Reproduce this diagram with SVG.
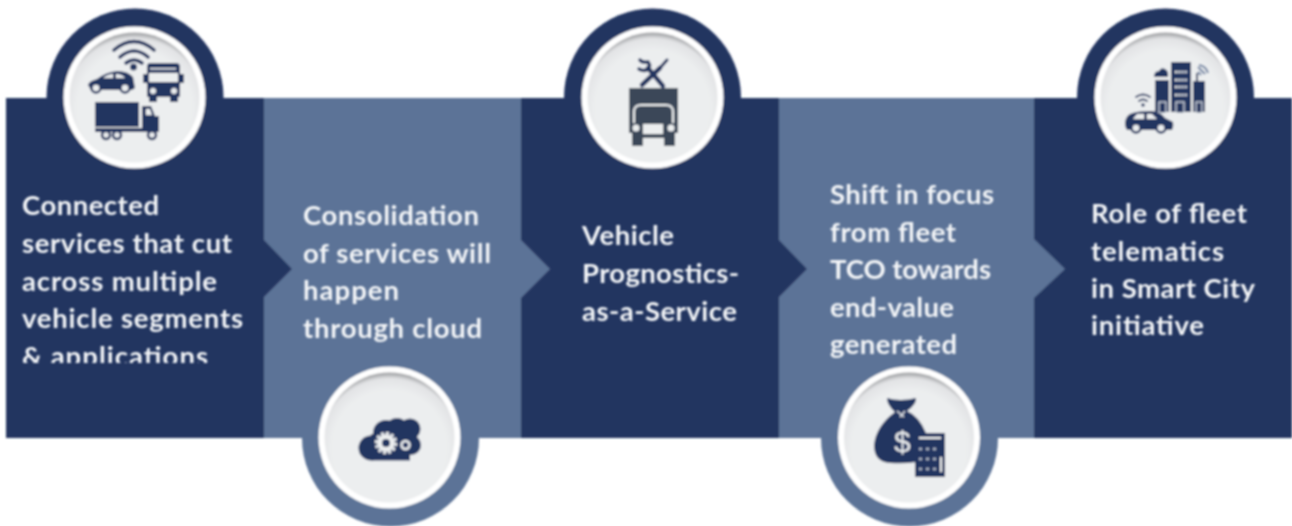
<svg xmlns="http://www.w3.org/2000/svg" width="1292" height="526" viewBox="0 0 1292 526">
<defs>
<filter id="soft" x="-5%" y="-5%" width="110%" height="110%"><feGaussianBlur stdDeviation="0.85"/></filter>
<radialGradient id="dish" cx="0.5" cy="0.58" r="0.58"><stop offset="0.76" stop-color="#eceeef"/><stop offset="0.92" stop-color="#e2e3e5"/><stop offset="1" stop-color="#9a9c9f"/></radialGradient>
<clipPath id="cut1"><rect x="0" y="180" width="264" height="183"/></clipPath>
<g id="dishg"><circle r="71" fill="#fff"/><circle r="65" fill="url(#dish)"/></g>
</defs>
<style>
.d{fill:#233561}.l{fill:#5c7397}.g{fill:#3a4658}.bg{fill:#eceeef}
.t{font-family:"Lato","Open Sans","Liberation Sans",sans-serif;font-weight:700;font-size:27.5px;fill:#f4f6f8}
.ws{fill:none;stroke:#233561;stroke-linecap:round}
.wh{fill:#eceeef;stroke:#233561;stroke-width:2.5}
</style>
<rect width="1292" height="526" fill="#fff"/>
<g filter="url(#soft)">
<g id="node1"><rect class="d" x="6" y="98" width="258" height="340"/><circle class="d" cx="135" cy="97" r="88.5"/><use href="#dishg" x="134.5" y="97.5"/>
<path class="ws" stroke-width="3.6" d="M114 50Q134 33 154 50M120 57Q134 45 148 57M126 63Q134 57 142 63"/><circle class="d" cx="133.5" cy="67" r="3.5"/>
<path class="d" d="M88 85Q89 81 97 79Q106 72 117 71Q128 71 133 77L135 88L132 90H91Z"/><path class="bg" d="M103 78Q108 74 113 74V78ZM116 74Q122 74 125 78H116Z"/><circle class="wh" cx="96" cy="88" r="4.5"/><circle class="wh" cx="125" cy="88" r="4.5"/>
<path class="d" d="M150 63H176Q180 63 180 67V97H147V67Q147 63 150 63ZM143 74H147V83H143ZM180 74H184V83H180ZM149 97H157V102H149ZM170 97H178V102H170Z"/><rect class="bg" x="149" y="73" width="29" height="9"/><rect class="bg" x="150" y="68" width="26" height="1.5"/><circle class="bg" cx="153" cy="91" r="3"/><circle class="bg" cx="174" cy="91" r="3"/>
<rect class="d" x="95" y="102" width="44" height="25"/><path class="d" d="M142 106H151L155 116H159V132H95V128H142Z"/><path class="bg" d="M146 109H150L152 115H146Z"/><circle class="wh" cx="106" cy="135" r="4"/><circle class="wh" cx="117" cy="135" r="4"/><circle class="wh" cx="152" cy="135" r="4"/>
</g>
<g id="node2"><circle class="l" cx="390.5" cy="438" r="88.5"/><rect class="l" x="264" y="98" width="257" height="340"/><use href="#dishg" x="389.5" y="437.5"/>
<g class="d"><circle cx="371" cy="448" r="12.5"/><circle cx="386" cy="433" r="13"/><circle cx="397" cy="429" r="11"/><circle cx="410" cy="429" r="10.500"/><circle cx="411" cy="445" r="10"/><rect x="371" y="434" width="39" height="26.500"/></g>
<circle cx="386" cy="443" r="6.500" fill="none" stroke="#eceeef" stroke-width="5"/><circle cx="386" cy="443" r="10" fill="none" stroke="#eceeef" stroke-width="2.500" stroke-dasharray="3 2.200"/>
<circle cx="405.500" cy="445" r="4" fill="none" stroke="#eceeef" stroke-width="2.500"/>
</g>
<g id="node3"><rect class="d" x="521" y="98" width="258" height="340"/><circle class="d" cx="652.500" cy="97" r="88.500"/><use href="#dishg" x="652.500" y="97.500"/>
<path class="ws" stroke-width="4.500" d="M642 85L660 68M663 86L648 68"/><path class="ws" stroke-width="3" d="M660 68L667 60"/><path class="ws" stroke-width="3.500" d="M640 60Q642 63 648 62Q651 66 648 69Q644 72 639 69"/>
<path class="g" d="M629 88H678V133H675V146H664V138H643V146H632V133H629Z"/><path d="M634 123V112Q634 105 641 105H666Q673 105 673 112V123" fill="none" stroke="#eceeef" stroke-width="2"/><rect class="bg" x="643" y="124" width="20" height="10"/><circle class="bg" cx="636" cy="128" r="3.500"/><circle class="bg" cx="671" cy="128" r="3.500"/>
</g>
<g id="node4"><circle class="l" cx="909.500" cy="438" r="88.500"/><rect class="l" x="779" y="98" width="255" height="340"/><use href="#dishg" x="909" y="437.500"/><path class="l" d="M925 366H934V369L925 368Z"/>
<path class="d" d="M887 398Q900 402 916 398Q917 404 907 411Q919 416 926 433H916V462Q905 464 890 463Q874 462 874 445Q876 426 895 412Q887 405 887 398Z"/><path d="M897 411L904 417M905 411L900 417" stroke="#eceeef" stroke-width="1.200"/>
<text x="894" y="452" style="font-family:'Liberation Sans',sans-serif;font-size:30px;fill:#eceeef">$</text>
<rect class="d" x="915" y="433" width="30" height="44"/><rect class="bg" x="919" y="437" width="22" height="2"/>
<path d="M919 449h3M926 449h3M933 449h3M919 459h3M926 459h3M933 459h3M919 469h3M926 469h3M933 469h3" stroke="#aab3c4" stroke-width="2.500"/><rect class="bg" x="940" y="457" width="2" height="15"/>
</g>
<g id="node5"><rect class="d" x="1034" y="98" width="258" height="340"/><circle class="d" cx="1165.500" cy="97" r="88.500"/><use href="#dishg" x="1165.500" y="97.500"/>
<path class="d" d="M1155 80H1169V112H1155ZM1171 62H1191V112H1171ZM1193 81H1205V112H1193Z"/>
<path d="M1175 72h13M1175 80h13M1175 87h13M1175 95h13" stroke="#eceeef" stroke-width="2.500" stroke-dasharray="2 1.200"/>
<g class="d" stroke="#eceeef" stroke-width="1.200"><rect x="1159" y="102" width="7" height="11"/><rect x="1176" y="102" width="8" height="11"/><rect x="1196" y="102" width="6" height="11"/></g>
<path class="d" d="M1154 77Q1154 71 1159 71Q1161 67 1165 69Q1169 71 1168 77Z"/><rect class="d" x="1196" y="73" width="2" height="8"/><path d="M1198 67L1205 74M1199 65Q1206 66 1208 73M1198 72L1201 75" stroke="#6f82a2" stroke-width="2" fill="none"/>
<path class="ws" stroke-width="1.800" d="M1136 97Q1143 92 1150 97M1139 101Q1143 98 1147 101"/><circle class="d" cx="1143" cy="105" r="1.800"/>
<path class="d" d="M1125 124Q1125 117 1130 114Q1136 111 1152 111Q1161 112 1165 118L1173 122Q1174 126 1172 130H1127Q1125 127 1125 124Z"/><circle class="wh" cx="1136" cy="128" r="4.500"/><circle class="wh" cx="1161" cy="128" r="4.500"/><path class="bg" d="M1133 119L1137 114H1144V119ZM1147 114H1152L1157 119H1147Z"/>
</g>
<g id="connectors"><path class="d" d="M264 240L292 269L264 297Z"/><path class="l" d="M521 240L550 269L521 298Z"/><path class="d" d="M779 240L807 269L779 297Z"/><path class="l" d="M1034 239L1065 269L1034 298Z"/></g>
</g>
<g filter="url(#soft)">
<g clip-path="url(#cut1)"><text class="t" x="22" y="215" textLength="137">Connected</text><text class="t" x="22" y="253" textLength="210">services that cut</text><text class="t" x="22" y="291" textLength="195">across multiple</text><text class="t" x="22" y="328" textLength="221">vehicle segments</text><text class="t" x="22" y="366" textLength="186">&amp; applications</text></g>
<text class="t" x="303" y="225" textLength="176">Consolidation</text><text class="t" x="303" y="263" textLength="188">of services will</text><text class="t" x="303" y="300" textLength="96">happen</text><text class="t" x="303" y="338" textLength="179">through cloud</text>
<text class="t" x="582" y="245" textLength="92">Vehicle</text><text class="t" x="582" y="283" textLength="157">Prognostics-</text><text class="t" x="582" y="321" textLength="155">as-a-Service</text>
<text class="t" x="830" y="204" textLength="164">Shift in focus</text><text class="t" x="830" y="242" textLength="126">from fleet</text><text class="t" x="830" y="279" textLength="161">TCO towards</text><text class="t" x="830" y="317" textLength="124">end-value</text><text class="t" x="830" y="354" textLength="127">generated</text>
<text class="t" x="1091" y="223" textLength="156">Role of fleet</text><text class="t" x="1091" y="261" textLength="133">telematics</text><text class="t" x="1091" y="298" textLength="164">in Smart City</text><text class="t" x="1091" y="335" textLength="113">initiative</text>
</g>
</svg>
